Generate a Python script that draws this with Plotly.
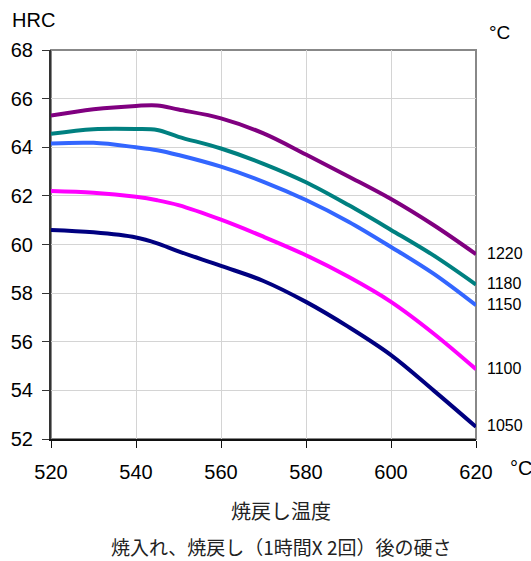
import plotly.graph_objects as go

temps = [520, 530, 540, 545, 550, 560, 570, 580, 590, 600, 610, 620]
hrc_1220 = [65.3, 65.56, 65.70, 65.72, 65.55, 65.19, 64.57, 63.7, 62.8, 61.87, 60.8, 59.6]
hrc_1180 = [64.55, 64.74, 64.75, 64.71, 64.43, 63.95, 63.32, 62.56, 61.62, 60.6, 59.55, 58.35]
hrc_1150 = [64.15, 64.18, 64.0, 63.88, 63.68, 63.2, 62.58, 61.83, 60.94, 59.9, 58.8, 57.5]
hrc_1100 = [62.2, 62.13, 61.96, 61.82, 61.62, 61.02, 60.32, 59.56, 58.67, 57.64, 56.34, 54.87]
hrc_1050 = [60.6, 60.5, 60.29, 60.05, 59.72, 59.12, 58.5, 57.64, 56.61, 55.45, 54.0, 52.5]

series_names = ["1220", "1180", "1150", "1100", "1050"]
series_vals = [hrc_1220, hrc_1180, hrc_1150, hrc_1100, hrc_1050]
colors = ["#800080", "#008080", "#3366ff", "#ff00ff", "#000080"]

x_ticks = [520, 540, 560, 580, 600, 620]
y_ticks = [52, 54, 56, 58, 60, 62, 64, 66, 68]

fig = go.Figure()
for name, vals, c in zip(series_names, series_vals, colors):
    fig.add_trace(go.Scatter(x=temps, y=vals, mode="lines", name=name,
                             line=dict(color=c, width=4, shape="spline", smoothing=1.0),
                             showlegend=False, cliponaxis=False, hoverinfo="skip"))

SANS = "Liberation Sans"
lab_font = dict(size=16, color="black", family=SANS)
big_font = dict(size=20, color="black", family=SANS)
cjk_font = dict(size=19, color="#222", family="Noto Sans CJK JP")

ann = []
for name, vals in zip(series_names, series_vals):
    ann.append(dict(x=temps[-1], y=vals[-1], xref="x", yref="y", text=name,
                    showarrow=False, xanchor="left", xshift=9, yshift=1, font=lab_font))

ann.append(dict(x=-0.0965, y=1.077, xref="paper", yref="paper", text="HRC", showarrow=False,
                xanchor="left", yanchor="middle", font=big_font))
ann.append(dict(x=1.026, y=1.044, xref="paper", yref="paper", text="°C", showarrow=False,
                xanchor="left", yanchor="middle", font=dict(size=19, color="black", family=SANS)))
ann.append(dict(x=1.075, y=-0.0745, xref="paper", yref="paper", text="°C", showarrow=False,
                xanchor="left", yanchor="middle", font=big_font))
ann.append(dict(x=0.54, y=-0.183, xref="paper", yref="paper", text="焼戻し温度", showarrow=False,
                xanchor="center", yanchor="middle", font=dict(size=20, color="#222",
                                                              family="Noto Sans CJK JP")))
ann.append(dict(x=0.541, y=-0.276, xref="paper", yref="paper",
                text="焼入れ、焼戻し（1時間X 2回）後の硬さ", showarrow=False,
                xanchor="center", yanchor="middle", font=cjk_font))

fig.update_layout(
    width=531, height=561,
    margin=dict(l=51, r=55, t=50, b=122),
    plot_bgcolor="white", paper_bgcolor="white",
    annotations=ann,
    hovermode=False,
    shapes=[dict(type="rect", xref="paper", yref="paper", x0=0, y0=0, x1=1, y1=1,
                 line=dict(color="#888888", width=2), layer="below")],
    xaxis=dict(range=[520, 620], tickvals=x_ticks, showgrid=True, gridcolor="#d4d4d4",
               gridwidth=1, zeroline=False, showline=True, linecolor="#111", linewidth=2,
               ticks="outside", ticklen=7, tickcolor="#111", tickwidth=1,
               ticklabelstandoff=7, tickfont=big_font),
    yaxis=dict(range=[52, 68], tickvals=y_ticks, showgrid=True, gridcolor="#d4d4d4",
               gridwidth=1, zeroline=False, showline=True, linecolor="#333", linewidth=2,
               ticks="outside", ticklen=7, tickcolor="#333", tickwidth=1,
               ticklabelstandoff=5, tickfont=big_font),
)

fig.write_html("out.html", config={"displayModeBar": False},
               post_script="document.body.style.margin='0';")
